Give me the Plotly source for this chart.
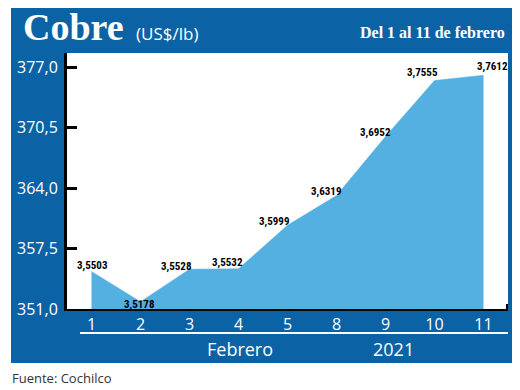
import plotly.graph_objects as go

# ---- data ----
days = ["1", "2", "3", "4", "5", "8", "9", "10", "11"]
prices = [3.5503, 3.5178, 3.5528, 3.5532, 3.5999, 3.6319, 3.6952, 3.7555, 3.7612]  # US$/lb
ytick_vals = [351.0, 357.5, 364.0, 370.5, 377.0]
ytick_text = ["351,0", "357,5", "364,0", "370,5", "377,0"]
# label offsets (pixels) for value labels
label_dx = [1, -1, -13, -11, -13, -10, -10, -12, 9]
label_dy = [6, -3, 3, 6, 4, 4, 4, 8, 9]

# ---- layout geometry ----
W, H = 520, 390
L, R, T, B = 67, 12, 53, 81
PW, PH = W - L - R, H - T - B

def px(x):
    return (x - L) / PW

def py(y):
    return (H - B - y) / PH

BLUE = "#0b63a6"
FILL = "#55b0e2"

cents = [p * 100 for p in prices]
labels = [f"{p:.4f}".replace(".", ",") for p in prices]
idx = list(range(len(days)))

fig = go.Figure()
fig.add_trace(go.Scatter(
    x=idx, y=cents, mode="lines", fill="tozeroy",
    fillcolor=FILL, line=dict(color=FILL, width=0.5),
    hoverinfo="skip", showlegend=False,
))

annotations = []
for i, v, t, dx, dy in zip(idx, cents, labels, label_dx, label_dy):
    annotations.append(dict(
        x=i, y=v, xref="x", yref="y", text="<b>" + t + "</b>", showarrow=False,
        xshift=dx, yshift=dy,
        font=dict(family="Roboto Condensed, Liberation Sans Narrow, Roboto, sans-serif",
                  size=11, color="black"),
        xanchor="center", yanchor="middle",
    ))

# header / footer texts
annotations += [
    dict(x=px(21), y=py(27), xref="paper", yref="paper", text="<b>Cobre</b>",
         showarrow=False, xanchor="left", yanchor="middle",
         font=dict(family="Liberation Serif, serif", size=38, color="white")),
    dict(x=px(134), y=py(33), xref="paper", yref="paper", text="(US$/lb)",
         showarrow=False, xanchor="left", yanchor="middle",
         font=dict(family="Open Sans, sans-serif", size=17, color="white")),
    dict(x=px(507), y=py(32), xref="paper", yref="paper", text="<b>Del 1 al 11 de febrero</b>",
         showarrow=False, xanchor="right", yanchor="middle",
         font=dict(family="Liberation Serif, serif", size=16, color="white")),
    dict(x=px(240), y=py(349), xref="paper", yref="paper", text="Febrero",
         showarrow=False, xanchor="center", yanchor="middle",
         font=dict(family="Open Sans, sans-serif", size=18, color="white")),
    dict(x=px(393), y=py(349), xref="paper", yref="paper", text="2021",
         showarrow=False, xanchor="center", yanchor="middle",
         font=dict(family="Open Sans, sans-serif", size=18, color="white")),
    dict(x=px(10), y=py(378), xref="paper", yref="paper", text="Fuente: Cochilco",
         showarrow=False, xanchor="left", yanchor="middle",
         font=dict(family="Open Sans, sans-serif", size=13, color="#333333")),
]

shapes = [
    # blue frame
    dict(type="rect", xref="paper", yref="paper", x0=px(11), x1=px(512), y0=py(363), y1=py(8),
         fillcolor=BLUE, line=dict(width=0), layer="below"),
    # white plot area
    dict(type="rect", xref="paper", yref="paper", x0=0, x1=1, y0=0, y1=1,
         fillcolor="white", line=dict(width=0), layer="below"),
    # white separator under x labels
    dict(type="line", xref="paper", yref="paper", x0=px(80), x1=px(508), y0=py(333), y1=py(333),
         line=dict(color="white", width=2)),
    # small right-end tick on x axis
    dict(type="line", xref="paper", yref="paper", x0=px(507), x1=px(507), y0=py(309), y1=py(304),
         line=dict(color="black", width=2)),
]

ymin = 351.0
ymax = ymin + (PH) / ((H - B - 67) / 26.0)

fig.update_layout(
    width=W, height=H,
    margin=dict(l=L, r=R, t=T, b=B, pad=0),
    paper_bgcolor="white", plot_bgcolor="rgba(0,0,0,0)",
    annotations=annotations, shapes=shapes,
    showlegend=False,
    xaxis=dict(
        tickmode="array", tickvals=idx, ticktext=days,
        range=[-0.5, len(days) - 0.5],
        showgrid=False, zeroline=False,
        showline=True, linecolor="black", linewidth=2,
        ticks="", tickfont=dict(family="Open Sans, sans-serif", size=16, color="white"),
        ticklabelstandoff=0, fixedrange=True,
    ),
    yaxis=dict(
        range=[ymin, ymax], tickvals=ytick_vals, ticktext=ytick_text,
        showgrid=False, zeroline=False,
        showline=True, linecolor="black", linewidth=3,
        ticks="inside", ticklen=10, tickwidth=3, tickcolor="black",
        tickfont=dict(family="Open Sans, sans-serif", size=16, color="white"),
        ticklabelstandoff=3, fixedrange=True,
    ),
)

fig.write_html("out.html", config={"displayModeBar": False},
               post_script="document.body.style.margin='0';")
